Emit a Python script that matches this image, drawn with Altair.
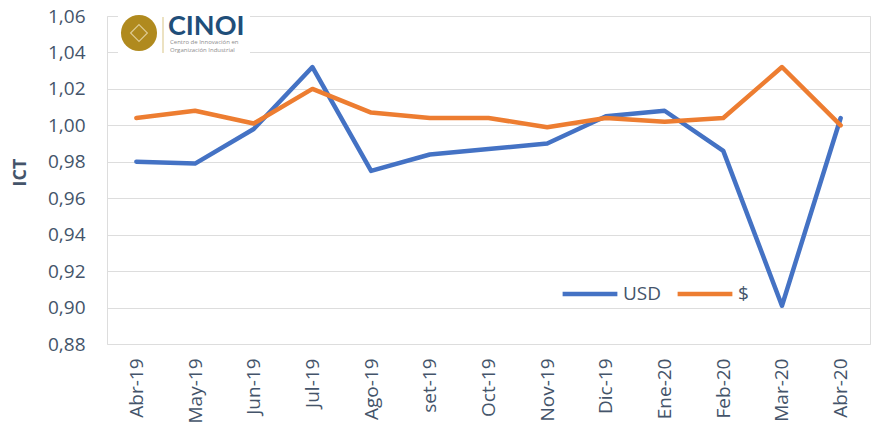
import altair as alt
import pandas as pd

months = ["Abr-19", "May-19", "Jun-19", "Jul-19", "Ago-19", "set-19", "Oct-19",
          "Nov-19", "Dic-19", "Ene-20", "Feb-20", "Mar-20", "Abr-20"]
usd = [0.980, 0.979, 0.998, 1.032, 0.975, 0.984, 0.987, 0.990, 1.005, 1.008, 0.986, 0.901, 1.004]
pesos = [1.004, 1.008, 1.001, 1.020, 1.007, 1.004, 1.004, 0.999, 1.004, 1.002, 1.004, 1.032, 1.000]
series_names = ["USD", "$"]
series_colors = ["#4472C4", "#ED7D31"]
y_ticks = [0.88, 0.90, 0.92, 0.94, 0.96, 0.98, 1.00, 1.02, 1.04, 1.06]

rows = []
for m, u, p in zip(months, usd, pesos):
    rows.append({"mes": m, "serie": "USD", "ict": u})
    rows.append({"mes": m, "serie": "$", "ict": p})
df = pd.DataFrame(rows)

FONT = "Open Sans"
TXT = "#44546A"

lines = alt.Chart(df).mark_line(strokeWidth=4.5, strokeCap="round", strokeJoin="round").encode(
    x=alt.X("mes:N", sort=months, title=None,
            scale=alt.Scale(type="point", padding=0.5),
            axis=alt.Axis(labelAngle=-90, labelFontSize=19, labelColor=TXT, labelFont=FONT,
                          ticks=False, domain=False, grid=False, labelPadding=14)),
    y=alt.Y("ict:Q", title="ICT",
            scale=alt.Scale(domain=[0.88, 1.06], nice=False, zero=False),
            axis=alt.Axis(values=y_ticks,
                          labelExpr="replace(format(datum.value, '.2f'), '.', ',')",
                          labelFontSize=19, labelColor=TXT, labelFont=FONT,
                          ticks=False, domain=False, grid=True, gridColor="#DDDDDD",
                          labelPadding=22, titleFontSize=18, titleColor=TXT,
                          titleFont=FONT, titleFontWeight="bold", titlePadding=18,
                          titleY=156)),
    color=alt.Color("serie:N", sort=series_names,
                    scale=alt.Scale(domain=series_names, range=series_colors),
                    legend=alt.Legend(title=None, orient="none", direction="horizontal",
                                      legendX=453, legendY=248,
                                      symbolType="stroke", symbolSize=3000,
                                      symbolStrokeWidth=4.5, labelFontSize=19,
                                      labelColor=TXT, labelFont=FONT, columnPadding=6,
                                      labelOffset=3)),
    order=alt.value(0),
)

# logo overlay (decoration)
logo_bg = alt.Chart(pd.DataFrame({"a": [0]})).mark_rect(color="white").encode(
    x=alt.value(11), x2=alt.value(143), y=alt.value(0), y2=alt.value(39))
logo_circle = alt.Chart(pd.DataFrame({"a": [0]})).mark_point(
    filled=True, color="#B08A1E", size=1300, opacity=1).encode(
    x=alt.value(32), y=alt.value(17))
logo_inner = alt.Chart(pd.DataFrame({"a": [0]})).mark_point(
    shape="diamond", filled=False, color="#F2E6C2", size=280, strokeWidth=1.2).encode(
    x=alt.value(32), y=alt.value(17))
logo_bar = alt.Chart(pd.DataFrame({"a": [0]})).mark_rule(color="#E6D9AE", strokeWidth=1.5).encode(
    x=alt.value(56), y=alt.value(1), y2=alt.value(37))
logo_title = alt.Chart(pd.DataFrame({"t": ["CINOI"]})).mark_text(
    font="Lato", fontWeight="bold", fontSize=27, color="#1F4E79", align="left", baseline="middle").encode(
    text="t:N", x=alt.value(61), y=alt.value(11))
logo_sub1 = alt.Chart(pd.DataFrame({"t": ["Centro de Innovación en"]})).mark_text(
    font=FONT, fontSize=6, color="#8C8C8C", align="left", baseline="middle").encode(
    text="t:N", x=alt.value(63), y=alt.value(26))
logo_sub2 = alt.Chart(pd.DataFrame({"t": ["Organización Industrial"]})).mark_text(
    font=FONT, fontSize=6, color="#8C8C8C", align="left", baseline="middle").encode(
    text="t:N", x=alt.value(63), y=alt.value(34))

chart = alt.layer(lines, logo_bg, logo_circle, logo_inner, logo_bar, logo_title, logo_sub1, logo_sub2).properties(
    width=763, height=328,
    padding={"left": 99, "top": 8, "right": 5, "bottom": 80},
    autosize=alt.AutoSizeParams(type="none"),
).configure_view(stroke=None).configure(background="white")

chart.save("out.html", embed_options={"renderer": "svg", "actions": False})
